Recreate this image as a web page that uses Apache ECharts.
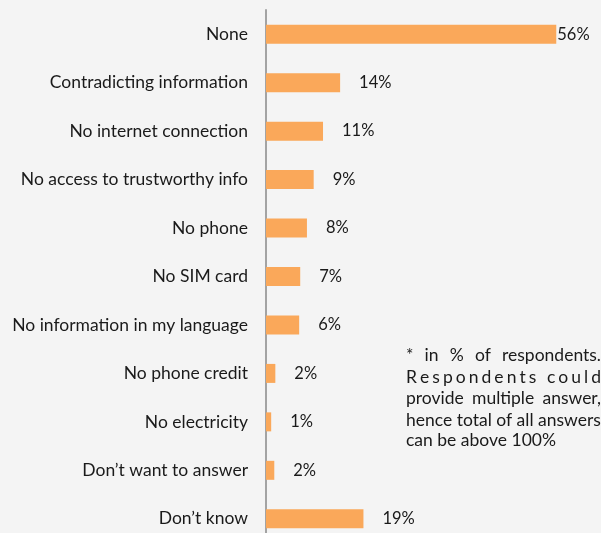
<!DOCTYPE html>
<html>
<head>
<meta charset="utf-8">
<script src="https://cdn.jsdelivr.net/npm/echarts@6/dist/echarts.min.js"></script>
<style>
html,body{margin:0;padding:0;background:#F4F4F4;overflow:hidden;}
#chart{width:601px;height:550px;}
</style>
</head>
<body>
<div id="chart"></div>
<script>
const categories = [
  "None",
  "Contradicting information",
  "No internet connection",
  "No access to trustworthy info",
  "No phone",
  "No SIM card",
  "No information in my language",
  "No phone credit",
  "No electricity",
  "Don\u2019t want to answer",
  "Don\u2019t know"
];
const values = [56, 14.3, 11.0, 9.2, 7.9, 6.6, 6.4, 1.8, 1.0, 1.6, 18.8];
const noteLines = [
  "* in % of respondents.",
  "Respondents could",
  "provide multiple answer,",
  "hence total of all answers",
  "can be above 100%"
];

const FONT = "Lato";
const FS = 17.5;
const LFS = 16.5;
const TXT = "#1a1a1a";

const chart = echarts.init(document.getElementById('chart'));

const cv = document.createElement('canvas').getContext('2d');
cv.font = FS + "px " + FONT;
function w(s){ return cv.measureText(s).width; }
function txt(s, x, y){
  return {type:'text', x:x, y:y, style:{text:s, font:FS+'px '+FONT, fill:TXT, verticalAlign:'middle'}};
}
function justifyWords(line, x0, x1, y){
  const words = line.split(' ');
  const total = words.reduce((a,s)=>a+w(s),0);
  const gap = (x1-x0-total)/(words.length-1);
  let x = x0; const out=[];
  words.forEach(s=>{ out.push(txt(s,x,y)); x += w(s)+gap; });
  return out;
}
function justifyChars(line, x0, x1, y){
  const chars = line.split('');
  const total = chars.reduce((a,s)=>a+w(s),0);
  const gap = (x1-x0-total)/(chars.length-1);
  let x = x0; const out=[];
  chars.forEach(s=>{ if(s!==' ') out.push(txt(s,x,y)); x += w(s)+gap; });
  return out;
}
const noteX0 = 406, noteX1 = 601;
const noteYs = [355, 377, 398, 420, 440];
let graphics = [];
graphics = graphics.concat(justifyWords(noteLines[0], noteX0, noteX1, noteYs[0]));
graphics = graphics.concat(justifyChars(noteLines[1], noteX0, noteX1, noteYs[1]));
graphics = graphics.concat(justifyWords(noteLines[2], noteX0, noteX1, noteYs[2]));
graphics.push(txt(noteLines[3], noteX0, noteYs[3]));
graphics.push(txt(noteLines[4], noteX0, noteYs[4]));

chart.setOption({
  backgroundColor: '#F4F4F4',
  animation: false,
  grid: { left: 266, top: 10, height: 533, width: 311 },
  xAxis: { type: 'value', min: 0, max: 60, show: false },
  yAxis: {
    type: 'category', data: categories, inverse: true,
    axisLine: { show: true, lineStyle: { color: '#A3A3A3', width: 2 } },
    axisTick: { show: false },
    axisLabel: { margin: 18, fontFamily: FONT, fontSize: FS, color: TXT }
  },
  series: [{
    type: 'bar',
    barWidth: 19,
    itemStyle: { color: '#FAA85A' },
    data: values.map((v,i)=>({ value: v, label: { distance: i===0 ? 1 : 19 } })),
    label: {
      show: true, position: 'right',
      fontFamily: FONT, fontSize: LFS, color: TXT,
      formatter: p => Math.round(p.value) + '%'
    }
  }],
  graphic: graphics
});
</script>
</body>
</html>
